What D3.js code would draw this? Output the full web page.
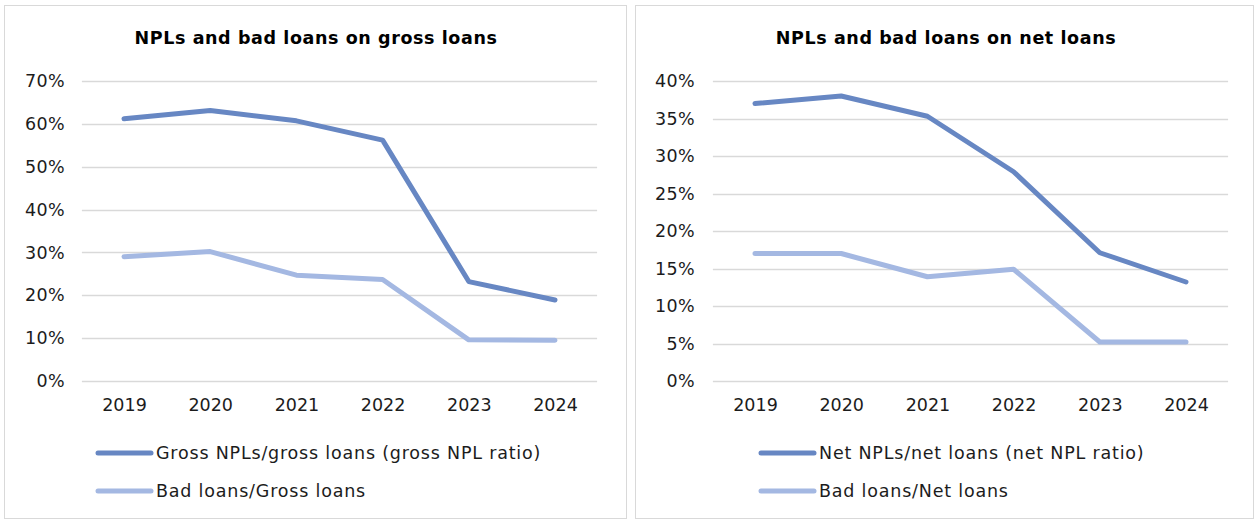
<!DOCTYPE html>
<html>
<head>
<meta charset="utf-8">
<script src="https://cdn.jsdelivr.net/npm/d3@7"></script>
<style>
  html, body { margin: 0; padding: 0; background: #ffffff; }
  svg { display: block; font-family: "DejaVu Sans", Verdana, sans-serif; }
</style>
</head>
<body>
<svg id="chart" width="1255" height="523"></svg>
<script>
// Years on the horizontal axis (shared by both panels)
const years = ["2019", "2020", "2021", "2022", "2023", "2024"];

// Left panel: ratios on gross loans (%)
const grossNplRatio = [61.2, 63.1, 60.7, 56.2, 23.2, 18.9];
const badOnGross    = [29.0, 30.2, 24.7, 23.7, 9.6, 9.5];
const grossTicks    = [0, 10, 20, 30, 40, 50, 60, 70];

// Right panel: ratios on net loans (%)
const netNplRatio   = [37.0, 38.0, 35.3, 27.9, 17.1, 13.2];
const badOnNet      = [17.0, 17.0, 13.9, 14.9, 5.2, 5.2];
const netTicks      = [0, 5, 10, 15, 20, 25, 30, 35, 40];

const titles = ["NPLs and bad loans on gross loans", "NPLs and bad loans on net loans"];
const seriesNames = [
  ["Gross NPLs/gross loans (gross NPL ratio)", "Bad loans/Gross loans"],
  ["Net NPLs/net loans (net NPL ratio)", "Bad loans/Net loans"]
];

const DARK = "#6787c3";
const LIGHT = "#a4b8e2";
const GRID = "#d9d9d9";
const TEXT = "#1c1c1c";

const svg = d3.select("#chart");

function drawPanel(p) {
  const g = svg.append("g");

  // panel frame
  g.append("rect")
    .attr("x", p.frame[0] + 0.5).attr("y", 5.5)
    .attr("width", p.frame[1]).attr("height", 513)
    .attr("fill", "#fff").attr("stroke", GRID).attr("stroke-width", 1);

  // title
  g.append("text")
    .attr("x", p.titleX).attr("y", 44)
    .attr("text-anchor", "middle")
    .attr("font-weight", "bold").attr("font-size", "17.5px")
    .attr("letter-spacing", "0.6px")
    .attr("fill", "#000")
    .text(p.title);

  const x = d3.scalePoint().domain(years).range(p.xRange).padding(0.5);
  const y = d3.scaleLinear().domain([0, d3.max(p.ticks)]).range([381, 81]);

  // horizontal gridlines
  g.append("g").selectAll("line").data(p.ticks).join("line")
    .attr("x1", p.xRange[0] + 1).attr("x2", p.xRange[1] - 1)
    .attr("y1", d => Math.round(y(d)) + 0.5).attr("y2", d => Math.round(y(d)) + 0.5)
    .attr("stroke", GRID).attr("stroke-width", 1.3);

  // y axis labels
  const yAxis = d3.axisLeft(y).tickValues(p.ticks).tickFormat(d => d + "%").tickSize(0).tickPadding(0);
  const ya = g.append("g").attr("transform", `translate(${p.yLabelX},0)`).call(yAxis);
  ya.select(".domain").remove();
  ya.selectAll("text").attr("font-size", "17.5px").attr("fill", TEXT)
    .attr("letter-spacing", "0.4px")
    .attr("font-family", "DejaVu Sans, Verdana, sans-serif");

  // x axis labels
  const xAxis = d3.axisBottom(x).tickSize(0).tickPadding(0);
  const xa = g.append("g").attr("transform", "translate(0,399)").call(xAxis);
  xa.select(".domain").remove();
  xa.selectAll("text").attr("font-size", "17.5px").attr("fill", TEXT)
    .attr("font-family", "DejaVu Sans, Verdana, sans-serif")
    .attr("dy", "0.71em");

  // series lines
  const line = d3.line().x((d, i) => x(years[i])).y(d => y(d));
  const series = [
    { values: p.light, color: LIGHT },
    { values: p.dark, color: DARK }
  ];
  g.append("g").selectAll("path").data(series).join("path")
    .attr("d", s => line(s.values))
    .attr("fill", "none")
    .attr("stroke", s => s.color)
    .attr("stroke-width", 5)
    .attr("stroke-linecap", "round")
    .attr("stroke-linejoin", "round");

  // legend
  const legend = [
    { name: p.names[0], color: DARK, y: 453 },
    { name: p.names[1], color: LIGHT, y: 491 }
  ];
  const lg = g.append("g").selectAll("g").data(legend).join("g")
    .attr("transform", d => `translate(${p.legendX},${d.y})`);
  lg.append("line")
    .attr("x1", 0).attr("x2", 53).attr("y1", 0).attr("y2", 0)
    .attr("stroke", d => d.color).attr("stroke-width", 5).attr("stroke-linecap", "round");
  lg.append("text")
    .attr("x", 58).attr("dy", "0.35em")
    .attr("font-size", "17.5px").attr("fill", TEXT)
    .attr("letter-spacing", "0.8px")
    .text(d => d.name);
}

drawPanel({
  frame: [4, 622], title: titles[0], titleX: 316,
  xRange: [80.9, 598.1], yLabelX: 65, ticks: grossTicks,
  dark: grossNplRatio, light: badOnGross, names: seriesNames[0], legendX: 98
});

drawPanel({
  frame: [635, 618], title: titles[1], titleX: 946,
  xRange: [711.9, 1229.1], yLabelX: 695, ticks: netTicks,
  dark: netNplRatio, light: badOnNet, names: seriesNames[1], legendX: 761
});
</script>
</body>
</html>
